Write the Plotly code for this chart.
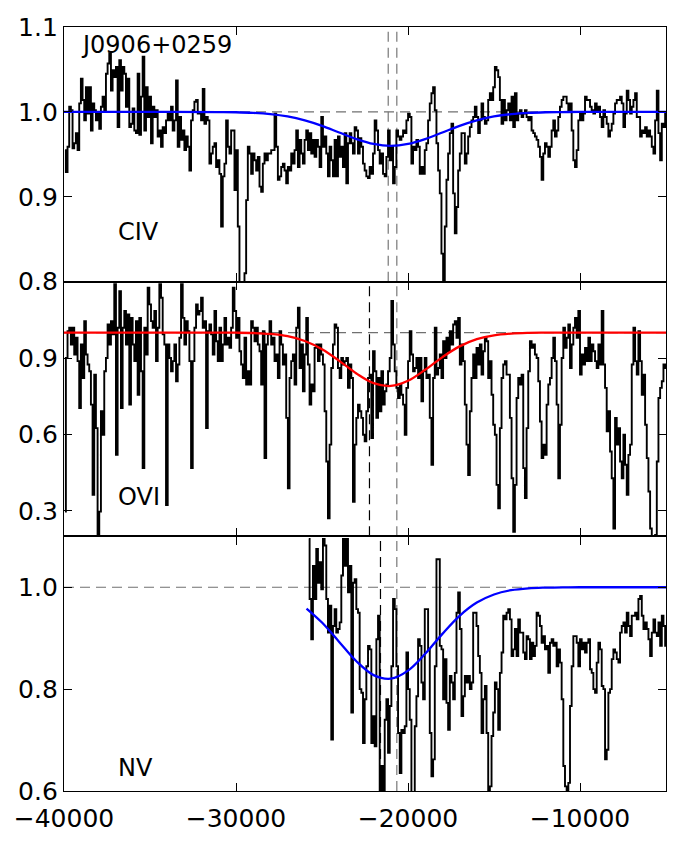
import plotly.graph_objects as go
from plotly.subplots import make_subplots

# ---------------- data ----------------
# binned velocity grids (km/s): first bin centre and bin width
c4_start, c4_step = -39940, 97.05
ovi_start, ovi_step = -39940, 97.05
nv_start, nv_step = -25770, 97.05

c4_flux = [
    0.955, 0.929, 0.959, 1.006, 1.002, 0.957, 0.963, 0.975, 0.955, 1.01,
    1.039, 1.014, 0.99, 1.029, 0.998, 1.029, 0.978, 1.01, 1.002, 0.99,
    0.998, 0.98, 1.006, 1.018, 1.0, 1.045, 1.057, 1.069, 1.025, 1.049,
    1.041, 1.053, 0.982, 1.061, 1.025, 1.053, 1.045, 1.006, 1.039, 0.982,
    0.986, 1.004, 0.978, 0.975, 1.045, 0.973, 1.018, 1.065, 0.978, 1.029,
    0.994, 1.018, 0.963, 1.006, 0.994, 1.002, 0.971, 0.978, 0.959, 0.982,
    0.975, 0.99, 0.998, 0.99, 1.006, 0.978, 0.99, 1.037, 0.959, 0.994,
    0.967, 0.978, 0.955, 0.971, 0.959, 0.931, 0.99, 1.002, 1.012, 1.014,
    0.998, 0.998, 0.99, 1.027, 0.986, 0.994, 0.99, 0.939, 0.951, 0.959,
    0.963, 0.935, 0.943, 0.927, 0.865, 0.924, 0.939, 0.99, 0.959, 0.951,
    0.978, 0.978, 0.908, 0.955, 0.865, 0.75, 0.75, 0.75, 0.81, 0.896,
    0.959, 0.951, 0.927, 0.951, 0.943, 0.931, 0.947, 0.912, 0.906, 0.939,
    0.951, 0.943, 0.951, 0.951, 0.955, 0.955, 0.998, 0.959, 0.92, 0.924,
    0.935, 0.939, 0.931, 0.916, 0.935, 0.931, 0.951, 0.939, 0.955, 0.978,
    0.935, 0.967, 0.951, 0.939, 0.967, 0.978, 0.955, 0.975, 0.951, 0.967,
    0.947, 0.967, 0.959, 0.935, 0.994, 0.959, 0.971, 0.951, 0.924, 0.959,
    0.943, 0.924, 0.967, 0.924, 0.971, 0.947, 0.959, 0.935, 0.975, 0.916,
    0.963, 0.975, 0.963, 0.951, 0.982, 0.978, 0.951,
    # right half
    0.969, 0.959, 0.939, 0.931, 0.924, 0.922, 0.935, 0.927, 0.951, 0.99,
    0.978, 0.955, 0.939, 0.951, 0.927, 0.924, 0.947, 0.978, 0.943, 0.959,
    0.916, 0.935, 0.978, 0.971, 0.967, 0.971, 0.978, 0.975, 0.99, 0.998,
    0.994, 0.939, 0.959, 0.955, 0.967, 0.959, 0.927, 0.935, 0.927, 0.955,
    0.963, 0.99, 1.01, 1.022, 1.029, 1.002, 0.963, 0.931, 0.904, 0.833,
    0.75, 0.865, 0.92, 0.951, 0.975, 0.986, 0.904, 0.857, 0.888, 0.931,
    0.951, 0.975, 0.975, 0.939, 0.951, 0.971, 0.982, 0.99, 0.994, 1.006,
    0.994, 0.975, 0.99, 1.01, 0.994, 0.986, 0.99, 1.014, 1.022, 1.014,
    1.029, 1.053, 1.049, 1.041, 1.014, 0.986, 1.014, 0.99, 1.002, 1.01,
    0.99, 1.018, 0.982, 1.022, 0.99, 0.998, 1.002, 0.994, 0.998, 1.002,
    0.994, 0.99, 0.994, 0.978, 0.975, 0.971, 0.967, 0.959, 0.947, 0.92,
    0.951, 0.963, 0.959, 0.947, 0.959, 0.978, 0.99, 0.971, 0.978, 0.994,
    1.006, 1.014, 1.018, 1.018, 1.01, 1.002, 1.01, 0.978, 0.943, 0.935,
    0.955, 0.99, 0.998, 0.99, 0.998, 1.018, 1.014, 1.014, 1.006, 1.002,
    0.998, 1.01, 1.002, 1.006, 0.994, 0.982, 1.002, 0.994, 0.986, 0.971,
    0.978, 0.986, 0.998, 1.01, 1.014, 1.014, 1.018, 1.01, 0.982, 0.998,
    1.025, 1.014, 0.998, 1.006, 1.014, 1.022, 0.994, 0.994, 0.971, 0.978,
    0.975, 0.982, 0.971, 0.978, 0.971, 0.959, 0.951, 0.99, 1.025, 0.975,
    0.943, 0.986, 0.982, 0.998,
]

ovi_flux = [
    0.297, 0.90, 1.006, 1.019, 0.953, 1.019, 0.914, 0.98, 0.888, 0.704,
    0.953, 0.822, 1.045, 0.914, 0.875, 0.848, 0.717, 0.363, 0.835, 0.625,
    0.205, 0.297, 0.691, 0.599, 0.848, 0.90, 1.032, 0.953, 1.045, 0.993,
    1.19, 0.52, 1.019, 1.163, 0.704, 1.019, 1.085, 0.953, 1.071, 0.717,
    1.058, 0.953, 0.888, 1.045, 0.756, 1.058, 0.848, 0.468, 1.019, 0.914,
    1.176, 1.111, 1.045, 1.019, 1.085, 0.888, 1.019, 1.19, 1.137, 0.993,
    0.953, 0.323, 0.953, 0.90, 0.848, 0.888, 0.953, 0.809, 0.875, 0.98,
    1.19, 1.058, 0.953, 1.045, 1.006, 0.888, 0.468, 0.888, 1.019, 1.111,
    1.071, 1.085, 1.137, 1.019, 1.045, 0.625, 1.006, 1.032, 0.993, 0.914,
    1.085, 0.966, 0.888, 1.019, 0.888, 0.953, 1.058, 0.953, 0.98, 0.94,
    1.019, 1.176, 1.085, 0.98, 1.058, 0.927, 0.875, 0.822, 0.98, 0.796,
    0.848, 0.796, 1.045, 1.019, 0.966, 1.019, 0.953, 0.927, 0.796, 1.006,
    0.507, 0.953, 0.993, 1.045, 0.953, 0.98, 0.888, 0.914, 0.822, 1.006,
    0.953, 0.875, 0.914, 0.665, 0.389, 0.822, 0.888, 0.914, 0.796, 1.019,
    1.098, 0.861, 0.953, 0.77, 0.914, 1.058, 0.875, 0.717, 0.796, 0.77,
    0.94, 0.953, 0.888, 0.953, 0.914, 0.875, 0.691, 0.494, 0.271, 0.56,
    0.861, 0.953, 1.032, 1.019, 0.861, 0.822, 0.90, 0.875, 0.888, 0.90,
    0.783, 0.875, 0.822, 0.336, 0.56, 0.665, 0.717,
    # right half
    0.691, 0.665, 0.599, 0.573, 0.691, 0.822, 0.835, 0.586, 0.927, 0.848,
    0.665, 0.822, 0.691, 0.848, 0.717, 0.77, 0.796, 0.848, 0.90, 1.124,
    0.953, 0.848, 0.783, 0.743, 0.796, 0.756, 0.717, 0.599, 0.783, 0.888,
    1.006, 0.914, 0.848, 0.861, 0.90, 0.822, 0.90, 0.73, 0.848, 0.90,
    0.822, 0.835, 0.665, 0.481, 0.822, 1.019, 0.835, 0.861, 0.914, 0.822,
    0.966, 0.90, 0.98, 0.927, 1.006, 0.953, 1.032, 1.045, 0.98, 1.058,
    0.875, 0.953, 0.888, 0.717, 0.56, 0.441, 0.691, 0.822, 0.914, 0.822,
    0.94, 0.875, 0.953, 0.835, 0.927, 0.98, 0.966, 0.822, 0.888, 0.756,
    0.638, 0.599, 0.402, 0.31, 0.625, 0.822, 0.875, 0.888, 0.835, 0.835,
    0.665, 0.428, 0.218, 0.402, 0.743, 0.822, 0.796, 0.835, 0.468, 0.35,
    0.625, 0.848, 0.966, 0.94, 0.953, 0.914, 0.90, 0.809, 0.651, 0.507,
    0.56, 0.52, 0.717, 0.796, 0.822, 0.90, 0.98, 0.888, 0.717, 0.428,
    0.638, 0.90, 1.019, 0.94, 0.98, 1.032, 0.861, 0.953, 1.019, 1.058,
    0.98, 1.085, 0.835, 0.914, 0.875, 0.94, 0.888, 0.98, 0.888, 0.953,
    0.927, 0.888, 0.861, 0.953, 0.875, 1.085, 0.875, 0.783, 0.612, 0.691,
    0.533, 0.428, 0.231, 0.665, 0.56, 0.625, 0.494, 0.428, 0.599, 0.481,
    0.363, 0.52, 0.56, 0.875, 1.019, 0.888, 0.835, 1.006, 0.888, 0.756,
    0.835, 0.638, 0.507, 0.376, 0.231, 0.19, 0.166, 0.205, 0.494, 0.743,
    0.783, 0.809, 0.875, 0.861,
]

nv_flux = [
    1.095, 0.977, 0.898, 1.042, 0.977, 1.075, 1.009, 1.049, 0.996, 1.095,
    1.082, 0.977, 0.911, 0.964, 0.701, 0.924, 0.957, 0.911, 0.918, 0.931,
    1.023, 1.095, 1.042, 1.095, 0.99, 1.042, 0.754, 1.009, 1.016, 0.957,
    0.95, 0.80, 0.793, 0.694, 0.78, 0.845, 0.885, 0.878, 0.694, 0.747,
    0.688, 0.898, 0.944, 0.59, 0.649, 0.59, 0.74, 0.78, 0.675, 0.767,
    0.845, 0.977, 0.957, 0.845, 0.714, 0.635, 0.72, 0.714, 0.727, 0.872,
    0.80, 0.74, 0.59, 0.59, 0.727, 0.786, 0.898, 0.885, 0.813, 0.78,
    0.957, 0.957, 0.878, 0.714, 0.629, 0.662, 0.845, 1.055, 1.055, 0.885,
    0.878, 0.78, 0.859, 0.773, 0.72, 0.826, 0.813, 0.78, 0.832, 0.95,
    0.99, 0.918, 0.747, 0.786, 0.826, 0.813, 0.826, 0.80, 0.813, 0.95,
    0.95, 0.924, 0.865, 0.832, 0.714, 0.78, 0.806, 0.714, 0.59, 0.609,
    0.708, 0.754, 0.813, 0.80, 0.72, 0.832, 0.872, 0.944, 0.937, 0.95,
    0.957, 0.937, 0.865, 0.878, 0.918, 0.865, 0.937, 0.911, 0.911, 0.872,
    0.859, 0.904, 0.898, 0.859, 0.891, 0.865, 0.885, 0.95, 0.944, 0.924,
    0.891, 0.904, 0.878, 0.885, 0.832, 0.891, 0.898, 0.885, 0.891, 0.845,
    0.878, 0.852, 0.78, 0.649, 0.609, 0.59, 0.616, 0.767, 0.845, 0.904,
    0.904, 0.891, 0.845, 0.898, 0.878, 0.891, 0.872, 0.891, 0.898, 0.839,
    0.832, 0.80, 0.793, 0.852, 0.891, 0.878, 0.806, 0.80, 0.662, 0.681,
    0.793, 0.80, 0.859, 0.878, 0.872, 0.859, 0.852, 0.911, 0.924, 0.931,
    0.911, 0.95, 0.924, 0.904, 0.944, 0.944, 0.95, 0.937, 0.977, 0.983,
    0.944, 0.918, 0.931, 0.918, 0.898, 0.865, 0.911, 0.937, 0.911, 0.904,
    0.931, 0.885, 0.944, 0.924, 0.885,
]

# Gaussian outflow fits
c4_fit_v = [-40000, -35000, -31000, -30000, -29000, -28000, -27000, -26000, -25000,
            -24000, -23000, -22000, -21000, -20000, -19000, -18000, -17000, -16000,
            -15000, -14000, -13000, -12000, -11000, -10000, -5000]
c4_fit_f = [1.0, 1.0, 0.9998, 0.9996, 0.9989, 0.9974, 0.9946, 0.990, 0.9836,
            0.9757, 0.968, 0.9622, 0.96, 0.9622, 0.968, 0.9757, 0.9836, 0.990,
            0.9946, 0.9974, 0.9989, 0.9996, 0.9998, 1.0, 1.0]

ovi_fit_v = [-40000, -35000, -31000, -30000, -29000, -28000, -27000, -26000, -25000,
             -24000, -23000, -22000, -21000, -20000, -19000, -18000, -17000, -16000,
             -15000, -14000, -13000, -12000, -11000, -10000, -5000]
ovi_fit_f = [1.0, 1.0, 0.9999, 0.9996, 0.9984, 0.9948, 0.9858, 0.967, 0.9346,
             0.8892, 0.8396, 0.8016, 0.7904, 0.8108, 0.854, 0.9038, 0.9459, 0.974,
             0.9893, 0.9962, 0.9989, 0.9997, 1.0, 1.0, 1.0]

nv_fit_v = [-25900, -25000, -24000, -23000, -22000, -21000, -20000, -19000, -18000,
            -17000, -16000, -15000, -14000, -13000, -12000, -11000, -10000, -5000]
nv_fit_f = [0.9582, 0.9307, 0.8927, 0.8547, 0.8275, 0.8205, 0.8363, 0.8693, 0.9085,
            0.9439, 0.9699, 0.9858, 0.9942, 0.9979, 0.9993, 0.9999, 1.0, 1.0]

# vertical marker velocities (km/s)
c4_marks = [-21150, -20650]
ovi_marks = [-22240, -20650]
nv_marks = [-21600, -20650]

panel_labels = ["CIV", "OVI", "NV"]
title_text = "J0906+0259"

x_ticks = [-40000, -30000, -20000, -10000]
x_ticktext = ["\u221240000", "\u221230000", "\u221220000", "\u221210000"]
y1_ticks = [0.8, 0.9, 1.0, 1.1]
y2_ticks = [0.3, 0.6, 0.9]
y3_ticks = [0.6, 0.8, 1.0]


def grid(start, step, n):
    return [start + i * step for i in range(n)]


c4_v = grid(c4_start, c4_step, len(c4_flux))
ovi_v = grid(ovi_start, ovi_step, len(ovi_flux))
nv_v = grid(nv_start, nv_step, len(nv_flux))

# ---------------- figure ----------------
FONT = "DejaVu Sans"
fig = make_subplots(rows=3, cols=1, shared_xaxes=True, vertical_spacing=0)

spec_line = dict(color="black", width=1.9, shape="hvh")
fig.add_trace(go.Scatter(x=c4_v, y=c4_flux, mode="lines", line=spec_line), row=1, col=1)
fig.add_trace(go.Scatter(x=c4_fit_v, y=c4_fit_f, mode="lines",
                         line=dict(color="#0000ff", width=2.3, shape="spline")), row=1, col=1)
fig.add_trace(go.Scatter(x=ovi_v, y=ovi_flux, mode="lines", line=spec_line), row=2, col=1)
fig.add_trace(go.Scatter(x=ovi_fit_v, y=ovi_fit_f, mode="lines",
                         line=dict(color="#ff0000", width=2.3, shape="spline")), row=2, col=1)
fig.add_trace(go.Scatter(x=nv_v, y=nv_flux, mode="lines", line=spec_line), row=3, col=1)
fig.add_trace(go.Scatter(x=nv_fit_v, y=nv_fit_f, mode="lines",
                         line=dict(color="#0000ff", width=2.3, shape="spline")), row=3, col=1)

for r in (1, 2, 3):
    fig.add_hline(y=1.0, line=dict(color="#707070", width=1.2, dash="10px,6px"),
                  layer="below", row=r, col=1)

for r, marks in ((1, c4_marks), (2, ovi_marks), (3, nv_marks)):
    for k, xv in enumerate(marks):
        col = "#777777" if (r == 1 or k == 1) else "black"
        fig.add_vline(x=xv, line=dict(color=col, width=1.2, dash="10px,6px"),
                      layer="below", row=r, col=1)

ax_common = dict(showline=True, linecolor="black", linewidth=1.4, mirror="ticks",
                 ticks="inside", ticklen=8, tickwidth=1.2, tickcolor="black",
                 showgrid=False, zeroline=False,
                 tickfont=dict(family=FONT, size=25, color="black"))

for r in (1, 2, 3):
    fig.update_xaxes(range=[-40000, -5000], tickvals=x_ticks, ticktext=x_ticktext,
                     showticklabels=(r == 3), row=r, col=1, **ax_common)
fig.update_xaxes(ticklabelstandoff=5, row=3, col=1)

fig.update_yaxes(range=[0.8, 1.1], tickvals=y1_ticks,
                 ticktext=["0.8", "0.9", "1.0", "1.1"], row=1, col=1, **ax_common)
fig.update_yaxes(range=[0.2, 1.2], tickvals=y2_ticks,
                 ticktext=["0.3", "0.6", "0.9"], row=2, col=1, **ax_common)
fig.update_yaxes(range=[0.6, 1.1], tickvals=y3_ticks,
                 ticktext=["0.6", "0.8", "1.0"], row=3, col=1, **ax_common)

ann_font = dict(family=FONT, size=24, color="black")
fig.add_annotation(x=-39100, y=1.079, xref="x", yref="y", text=title_text,
                   showarrow=False, xanchor="left", yanchor="middle", font=ann_font)
fig.add_annotation(x=-37000, y=0.859, xref="x", yref="y", text=panel_labels[0],
                   showarrow=False, xanchor="left", yanchor="middle", font=ann_font)
fig.add_annotation(x=-37000, y=0.354, xref="x2", yref="y2", text=panel_labels[1],
                   showarrow=False, xanchor="left", yanchor="middle", font=ann_font)
fig.add_annotation(x=-37000, y=0.645, xref="x3", yref="y3", text=panel_labels[2],
                   showarrow=False, xanchor="left", yanchor="middle", font=ann_font)

fig.update_layout(width=682, height=846, showlegend=False,
                  margin=dict(l=64, r=16, t=27, b=55),
                  plot_bgcolor="white", paper_bgcolor="white",
                  font=dict(family=FONT))

fig.write_html("out.html")
